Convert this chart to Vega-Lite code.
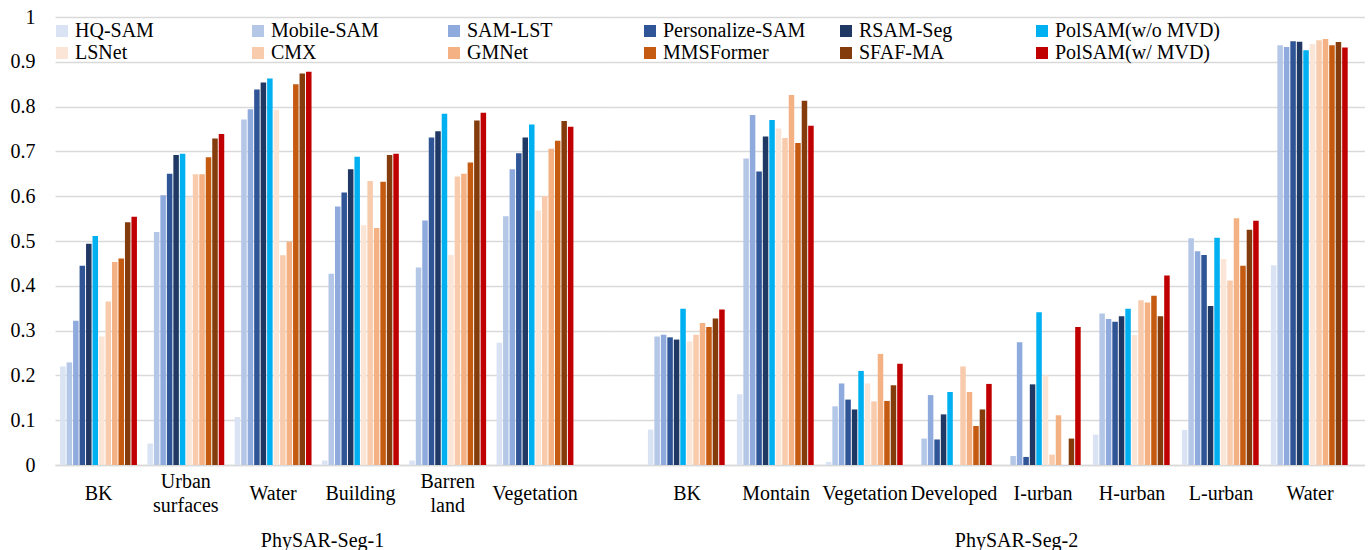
{
  "$schema": "https://vega.github.io/schema/vega-lite/v6.json",
  "background": "white",
  "padding": {"left": 0, "top": 7, "right": 0, "bottom": 0},
  "spacing": 0,
  "config": {
    "font": "Liberation Serif",
    "view": {"stroke": null},
    "axis": {
      "gridColor": "#d9d9d9",
      "gridWidth": 1.5,
      "domainColor": "#d9d9d9",
      "domainWidth": 1.5,
      "ticks": false,
      "tickSize": 0
    }
  },
  "data": {
    "values": [
      {"set": "PhySAR-Seg-1", "category": "BK", "method": "HQ-SAM", "value": 0.220},
      {"set": "PhySAR-Seg-1", "category": "BK", "method": "Mobile-SAM", "value": 0.229},
      {"set": "PhySAR-Seg-1", "category": "BK", "method": "SAM-LST", "value": 0.322},
      {"set": "PhySAR-Seg-1", "category": "BK", "method": "Personalize-SAM", "value": 0.445},
      {"set": "PhySAR-Seg-1", "category": "BK", "method": "RSAM-Seg", "value": 0.494},
      {"set": "PhySAR-Seg-1", "category": "BK", "method": "PolSAM(w/o MVD)", "value": 0.511},
      {"set": "PhySAR-Seg-1", "category": "BK", "method": "LSNet", "value": 0.287},
      {"set": "PhySAR-Seg-1", "category": "BK", "method": "CMX", "value": 0.365},
      {"set": "PhySAR-Seg-1", "category": "BK", "method": "GMNet", "value": 0.453},
      {"set": "PhySAR-Seg-1", "category": "BK", "method": "MMSFormer", "value": 0.461},
      {"set": "PhySAR-Seg-1", "category": "BK", "method": "SFAF-MA", "value": 0.542},
      {"set": "PhySAR-Seg-1", "category": "BK", "method": "PolSAM(w/ MVD)", "value": 0.554},

      {"set": "PhySAR-Seg-1", "category": "Urban surfaces", "method": "HQ-SAM", "value": 0.048},
      {"set": "PhySAR-Seg-1", "category": "Urban surfaces", "method": "Mobile-SAM", "value": 0.520},
      {"set": "PhySAR-Seg-1", "category": "Urban surfaces", "method": "SAM-LST", "value": 0.602},
      {"set": "PhySAR-Seg-1", "category": "Urban surfaces", "method": "Personalize-SAM", "value": 0.650},
      {"set": "PhySAR-Seg-1", "category": "Urban surfaces", "method": "RSAM-Seg", "value": 0.692},
      {"set": "PhySAR-Seg-1", "category": "Urban surfaces", "method": "PolSAM(w/o MVD)", "value": 0.695},
      {"set": "PhySAR-Seg-1", "category": "Urban surfaces", "method": "LSNet", "value": 0.598},
      {"set": "PhySAR-Seg-1", "category": "Urban surfaces", "method": "CMX", "value": 0.649},
      {"set": "PhySAR-Seg-1", "category": "Urban surfaces", "method": "GMNet", "value": 0.649},
      {"set": "PhySAR-Seg-1", "category": "Urban surfaces", "method": "MMSFormer", "value": 0.687},
      {"set": "PhySAR-Seg-1", "category": "Urban surfaces", "method": "SFAF-MA", "value": 0.729},
      {"set": "PhySAR-Seg-1", "category": "Urban surfaces", "method": "PolSAM(w/ MVD)", "value": 0.739},

      {"set": "PhySAR-Seg-1", "category": "Water", "method": "HQ-SAM", "value": 0.107},
      {"set": "PhySAR-Seg-1", "category": "Water", "method": "Mobile-SAM", "value": 0.771},
      {"set": "PhySAR-Seg-1", "category": "Water", "method": "SAM-LST", "value": 0.794},
      {"set": "PhySAR-Seg-1", "category": "Water", "method": "Personalize-SAM", "value": 0.838},
      {"set": "PhySAR-Seg-1", "category": "Water", "method": "RSAM-Seg", "value": 0.854},
      {"set": "PhySAR-Seg-1", "category": "Water", "method": "PolSAM(w/o MVD)", "value": 0.863},
      {"set": "PhySAR-Seg-1", "category": "Water", "method": "LSNet", "value": 0.793},
      {"set": "PhySAR-Seg-1", "category": "Water", "method": "CMX", "value": 0.468},
      {"set": "PhySAR-Seg-1", "category": "Water", "method": "GMNet", "value": 0.499},
      {"set": "PhySAR-Seg-1", "category": "Water", "method": "MMSFormer", "value": 0.850},
      {"set": "PhySAR-Seg-1", "category": "Water", "method": "SFAF-MA", "value": 0.874},
      {"set": "PhySAR-Seg-1", "category": "Water", "method": "PolSAM(w/ MVD)", "value": 0.878},

      {"set": "PhySAR-Seg-1", "category": "Building", "method": "HQ-SAM", "value": 0.010},
      {"set": "PhySAR-Seg-1", "category": "Building", "method": "Mobile-SAM", "value": 0.427},
      {"set": "PhySAR-Seg-1", "category": "Building", "method": "SAM-LST", "value": 0.577},
      {"set": "PhySAR-Seg-1", "category": "Building", "method": "Personalize-SAM", "value": 0.608},
      {"set": "PhySAR-Seg-1", "category": "Building", "method": "RSAM-Seg", "value": 0.660},
      {"set": "PhySAR-Seg-1", "category": "Building", "method": "PolSAM(w/o MVD)", "value": 0.688},
      {"set": "PhySAR-Seg-1", "category": "Building", "method": "LSNet", "value": 0.535},
      {"set": "PhySAR-Seg-1", "category": "Building", "method": "CMX", "value": 0.634},
      {"set": "PhySAR-Seg-1", "category": "Building", "method": "GMNet", "value": 0.529},
      {"set": "PhySAR-Seg-1", "category": "Building", "method": "MMSFormer", "value": 0.632},
      {"set": "PhySAR-Seg-1", "category": "Building", "method": "SFAF-MA", "value": 0.692},
      {"set": "PhySAR-Seg-1", "category": "Building", "method": "PolSAM(w/ MVD)", "value": 0.695},

      {"set": "PhySAR-Seg-1", "category": "Barren land", "method": "HQ-SAM", "value": 0.010},
      {"set": "PhySAR-Seg-1", "category": "Barren land", "method": "Mobile-SAM", "value": 0.441},
      {"set": "PhySAR-Seg-1", "category": "Barren land", "method": "SAM-LST", "value": 0.546},
      {"set": "PhySAR-Seg-1", "category": "Barren land", "method": "Personalize-SAM", "value": 0.731},
      {"set": "PhySAR-Seg-1", "category": "Barren land", "method": "RSAM-Seg", "value": 0.745},
      {"set": "PhySAR-Seg-1", "category": "Barren land", "method": "PolSAM(w/o MVD)", "value": 0.784},
      {"set": "PhySAR-Seg-1", "category": "Barren land", "method": "LSNet", "value": 0.469},
      {"set": "PhySAR-Seg-1", "category": "Barren land", "method": "CMX", "value": 0.644},
      {"set": "PhySAR-Seg-1", "category": "Barren land", "method": "GMNet", "value": 0.650},
      {"set": "PhySAR-Seg-1", "category": "Barren land", "method": "MMSFormer", "value": 0.675},
      {"set": "PhySAR-Seg-1", "category": "Barren land", "method": "SFAF-MA", "value": 0.769},
      {"set": "PhySAR-Seg-1", "category": "Barren land", "method": "PolSAM(w/ MVD)", "value": 0.786},

      {"set": "PhySAR-Seg-1", "category": "Vegetation", "method": "HQ-SAM", "value": 0.273},
      {"set": "PhySAR-Seg-1", "category": "Vegetation", "method": "Mobile-SAM", "value": 0.555},
      {"set": "PhySAR-Seg-1", "category": "Vegetation", "method": "SAM-LST", "value": 0.660},
      {"set": "PhySAR-Seg-1", "category": "Vegetation", "method": "Personalize-SAM", "value": 0.696},
      {"set": "PhySAR-Seg-1", "category": "Vegetation", "method": "RSAM-Seg", "value": 0.731},
      {"set": "PhySAR-Seg-1", "category": "Vegetation", "method": "PolSAM(w/o MVD)", "value": 0.760},
      {"set": "PhySAR-Seg-1", "category": "Vegetation", "method": "LSNet", "value": 0.568},
      {"set": "PhySAR-Seg-1", "category": "Vegetation", "method": "CMX", "value": 0.600},
      {"set": "PhySAR-Seg-1", "category": "Vegetation", "method": "GMNet", "value": 0.706},
      {"set": "PhySAR-Seg-1", "category": "Vegetation", "method": "MMSFormer", "value": 0.724},
      {"set": "PhySAR-Seg-1", "category": "Vegetation", "method": "SFAF-MA", "value": 0.768},
      {"set": "PhySAR-Seg-1", "category": "Vegetation", "method": "PolSAM(w/ MVD)", "value": 0.755},

      {"set": "PhySAR-Seg-2", "category": "BK", "method": "HQ-SAM", "value": 0.079},
      {"set": "PhySAR-Seg-2", "category": "BK", "method": "Mobile-SAM", "value": 0.287},
      {"set": "PhySAR-Seg-2", "category": "BK", "method": "SAM-LST", "value": 0.291},
      {"set": "PhySAR-Seg-2", "category": "BK", "method": "Personalize-SAM", "value": 0.285},
      {"set": "PhySAR-Seg-2", "category": "BK", "method": "RSAM-Seg", "value": 0.280},
      {"set": "PhySAR-Seg-2", "category": "BK", "method": "PolSAM(w/o MVD)", "value": 0.349},
      {"set": "PhySAR-Seg-2", "category": "BK", "method": "LSNet", "value": 0.276},
      {"set": "PhySAR-Seg-2", "category": "BK", "method": "CMX", "value": 0.291},
      {"set": "PhySAR-Seg-2", "category": "BK", "method": "GMNet", "value": 0.317},
      {"set": "PhySAR-Seg-2", "category": "BK", "method": "MMSFormer", "value": 0.308},
      {"set": "PhySAR-Seg-2", "category": "BK", "method": "SFAF-MA", "value": 0.327},
      {"set": "PhySAR-Seg-2", "category": "BK", "method": "PolSAM(w/ MVD)", "value": 0.347},

      {"set": "PhySAR-Seg-2", "category": "Montain", "method": "HQ-SAM", "value": 0.158},
      {"set": "PhySAR-Seg-2", "category": "Montain", "method": "Mobile-SAM", "value": 0.684},
      {"set": "PhySAR-Seg-2", "category": "Montain", "method": "SAM-LST", "value": 0.781},
      {"set": "PhySAR-Seg-2", "category": "Montain", "method": "Personalize-SAM", "value": 0.655},
      {"set": "PhySAR-Seg-2", "category": "Montain", "method": "RSAM-Seg", "value": 0.733},
      {"set": "PhySAR-Seg-2", "category": "Montain", "method": "PolSAM(w/o MVD)", "value": 0.770},
      {"set": "PhySAR-Seg-2", "category": "Montain", "method": "LSNet", "value": 0.751},
      {"set": "PhySAR-Seg-2", "category": "Montain", "method": "CMX", "value": 0.730},
      {"set": "PhySAR-Seg-2", "category": "Montain", "method": "GMNet", "value": 0.826},
      {"set": "PhySAR-Seg-2", "category": "Montain", "method": "MMSFormer", "value": 0.719},
      {"set": "PhySAR-Seg-2", "category": "Montain", "method": "SFAF-MA", "value": 0.813},
      {"set": "PhySAR-Seg-2", "category": "Montain", "method": "PolSAM(w/ MVD)", "value": 0.757},

      {"set": "PhySAR-Seg-2", "category": "Vegetation", "method": "HQ-SAM", "value": 0.007},
      {"set": "PhySAR-Seg-2", "category": "Vegetation", "method": "Mobile-SAM", "value": 0.131},
      {"set": "PhySAR-Seg-2", "category": "Vegetation", "method": "SAM-LST", "value": 0.182},
      {"set": "PhySAR-Seg-2", "category": "Vegetation", "method": "Personalize-SAM", "value": 0.146},
      {"set": "PhySAR-Seg-2", "category": "Vegetation", "method": "RSAM-Seg", "value": 0.124},
      {"set": "PhySAR-Seg-2", "category": "Vegetation", "method": "PolSAM(w/o MVD)", "value": 0.210},
      {"set": "PhySAR-Seg-2", "category": "Vegetation", "method": "LSNet", "value": 0.182},
      {"set": "PhySAR-Seg-2", "category": "Vegetation", "method": "CMX", "value": 0.142},
      {"set": "PhySAR-Seg-2", "category": "Vegetation", "method": "GMNet", "value": 0.248},
      {"set": "PhySAR-Seg-2", "category": "Vegetation", "method": "MMSFormer", "value": 0.143},
      {"set": "PhySAR-Seg-2", "category": "Vegetation", "method": "SFAF-MA", "value": 0.178},
      {"set": "PhySAR-Seg-2", "category": "Vegetation", "method": "PolSAM(w/ MVD)", "value": 0.226},

      {"set": "PhySAR-Seg-2", "category": "Developed", "method": "HQ-SAM", "value": 0},
      {"set": "PhySAR-Seg-2", "category": "Developed", "method": "Mobile-SAM", "value": 0.059},
      {"set": "PhySAR-Seg-2", "category": "Developed", "method": "SAM-LST", "value": 0.156},
      {"set": "PhySAR-Seg-2", "category": "Developed", "method": "Personalize-SAM", "value": 0.057},
      {"set": "PhySAR-Seg-2", "category": "Developed", "method": "RSAM-Seg", "value": 0.113},
      {"set": "PhySAR-Seg-2", "category": "Developed", "method": "PolSAM(w/o MVD)", "value": 0.163},
      {"set": "PhySAR-Seg-2", "category": "Developed", "method": "LSNet", "value": 0},
      {"set": "PhySAR-Seg-2", "category": "Developed", "method": "CMX", "value": 0.220},
      {"set": "PhySAR-Seg-2", "category": "Developed", "method": "GMNet", "value": 0.163},
      {"set": "PhySAR-Seg-2", "category": "Developed", "method": "MMSFormer", "value": 0.087},
      {"set": "PhySAR-Seg-2", "category": "Developed", "method": "SFAF-MA", "value": 0.124},
      {"set": "PhySAR-Seg-2", "category": "Developed", "method": "PolSAM(w/ MVD)", "value": 0.181},

      {"set": "PhySAR-Seg-2", "category": "I-urban", "method": "HQ-SAM", "value": 0},
      {"set": "PhySAR-Seg-2", "category": "I-urban", "method": "Mobile-SAM", "value": 0.020},
      {"set": "PhySAR-Seg-2", "category": "I-urban", "method": "SAM-LST", "value": 0.274},
      {"set": "PhySAR-Seg-2", "category": "I-urban", "method": "Personalize-SAM", "value": 0.018},
      {"set": "PhySAR-Seg-2", "category": "I-urban", "method": "RSAM-Seg", "value": 0.180},
      {"set": "PhySAR-Seg-2", "category": "I-urban", "method": "PolSAM(w/o MVD)", "value": 0.341},
      {"set": "PhySAR-Seg-2", "category": "I-urban", "method": "LSNet", "value": 0.200},
      {"set": "PhySAR-Seg-2", "category": "I-urban", "method": "CMX", "value": 0.023},
      {"set": "PhySAR-Seg-2", "category": "I-urban", "method": "GMNet", "value": 0.111},
      {"set": "PhySAR-Seg-2", "category": "I-urban", "method": "MMSFormer", "value": 0},
      {"set": "PhySAR-Seg-2", "category": "I-urban", "method": "SFAF-MA", "value": 0.059},
      {"set": "PhySAR-Seg-2", "category": "I-urban", "method": "PolSAM(w/ MVD)", "value": 0.308},

      {"set": "PhySAR-Seg-2", "category": "H-urban", "method": "HQ-SAM", "value": 0.068},
      {"set": "PhySAR-Seg-2", "category": "H-urban", "method": "Mobile-SAM", "value": 0.338},
      {"set": "PhySAR-Seg-2", "category": "H-urban", "method": "SAM-LST", "value": 0.326},
      {"set": "PhySAR-Seg-2", "category": "H-urban", "method": "Personalize-SAM", "value": 0.320},
      {"set": "PhySAR-Seg-2", "category": "H-urban", "method": "RSAM-Seg", "value": 0.332},
      {"set": "PhySAR-Seg-2", "category": "H-urban", "method": "PolSAM(w/o MVD)", "value": 0.349},
      {"set": "PhySAR-Seg-2", "category": "H-urban", "method": "LSNet", "value": 0.290},
      {"set": "PhySAR-Seg-2", "category": "H-urban", "method": "CMX", "value": 0.368},
      {"set": "PhySAR-Seg-2", "category": "H-urban", "method": "GMNet", "value": 0.363},
      {"set": "PhySAR-Seg-2", "category": "H-urban", "method": "MMSFormer", "value": 0.378},
      {"set": "PhySAR-Seg-2", "category": "H-urban", "method": "SFAF-MA", "value": 0.332},
      {"set": "PhySAR-Seg-2", "category": "H-urban", "method": "PolSAM(w/ MVD)", "value": 0.423},

      {"set": "PhySAR-Seg-2", "category": "L-urban", "method": "HQ-SAM", "value": 0.078},
      {"set": "PhySAR-Seg-2", "category": "L-urban", "method": "Mobile-SAM", "value": 0.506},
      {"set": "PhySAR-Seg-2", "category": "L-urban", "method": "SAM-LST", "value": 0.477},
      {"set": "PhySAR-Seg-2", "category": "L-urban", "method": "Personalize-SAM", "value": 0.469},
      {"set": "PhySAR-Seg-2", "category": "L-urban", "method": "RSAM-Seg", "value": 0.355},
      {"set": "PhySAR-Seg-2", "category": "L-urban", "method": "PolSAM(w/o MVD)", "value": 0.507},
      {"set": "PhySAR-Seg-2", "category": "L-urban", "method": "LSNet", "value": 0.460},
      {"set": "PhySAR-Seg-2", "category": "L-urban", "method": "CMX", "value": 0.412},
      {"set": "PhySAR-Seg-2", "category": "L-urban", "method": "GMNet", "value": 0.551},
      {"set": "PhySAR-Seg-2", "category": "L-urban", "method": "MMSFormer", "value": 0.445},
      {"set": "PhySAR-Seg-2", "category": "L-urban", "method": "SFAF-MA", "value": 0.525},
      {"set": "PhySAR-Seg-2", "category": "L-urban", "method": "PolSAM(w/ MVD)", "value": 0.545},

      {"set": "PhySAR-Seg-2", "category": "Water", "method": "HQ-SAM", "value": 0.446},
      {"set": "PhySAR-Seg-2", "category": "Water", "method": "Mobile-SAM", "value": 0.937},
      {"set": "PhySAR-Seg-2", "category": "Water", "method": "SAM-LST", "value": 0.933},
      {"set": "PhySAR-Seg-2", "category": "Water", "method": "Personalize-SAM", "value": 0.946},
      {"set": "PhySAR-Seg-2", "category": "Water", "method": "RSAM-Seg", "value": 0.945},
      {"set": "PhySAR-Seg-2", "category": "Water", "method": "PolSAM(w/o MVD)", "value": 0.926},
      {"set": "PhySAR-Seg-2", "category": "Water", "method": "LSNet", "value": 0.940},
      {"set": "PhySAR-Seg-2", "category": "Water", "method": "CMX", "value": 0.948},
      {"set": "PhySAR-Seg-2", "category": "Water", "method": "GMNet", "value": 0.951},
      {"set": "PhySAR-Seg-2", "category": "Water", "method": "MMSFormer", "value": 0.937},
      {"set": "PhySAR-Seg-2", "category": "Water", "method": "SFAF-MA", "value": 0.944},
      {"set": "PhySAR-Seg-2", "category": "Water", "method": "PolSAM(w/ MVD)", "value": 0.932}
    ]
  },
  "hconcat": [
    {
      "width": 556,
      "height": 448,
      "transform": [{"filter": "datum.set === 'PhySAR-Seg-1'"}],
      "mark": {"type": "bar"},
      "encoding": {
        "x": {
          "field": "category",
          "type": "nominal",
          "scale": {
            "domain": ["BK", "Urban surfaces", "Water", "Building", "Barren land", "Vegetation"],
            "paddingInner": 0.12,
            "paddingOuter": 0.2446,
            "align": 0.12
          },
          "axis": {
            "title": "PhySAR-Seg-1",
            "titleFont": "Liberation Serif",
            "titleFontSize": 20,
            "titleFontWeight": "normal",
            "titleColor": "#000000",
            "titleX": 267,
            "titleY": 75,
            "titleBaseline": "middle",
            "labelFont": "Liberation Serif",
            "labelFontSize": 20,
            "labelColor": "#000000",
            "labelAngle": 0,
            "labelPadding": {
              "condition": {"test": "datum.value === 'Urban surfaces' || datum.value === 'Barren land'", "value": 16},
              "value": 28
            },
            "labelBaseline": "middle",
            "labelLineHeight": 24,
            "labelExpr": "datum.label === 'Urban surfaces' ? ['Urban', 'surfaces'] : datum.label === 'Barren land' ? ['Barren', 'land'] : datum.label"
          }
        },
        "xOffset": {
          "field": "method",
          "type": "nominal",
          "scale": {
            "domain": ["HQ-SAM", "Mobile-SAM", "SAM-LST", "Personalize-SAM", "RSAM-Seg", "PolSAM(w/o MVD)", "LSNet", "CMX", "GMNet", "MMSFormer", "SFAF-MA", "PolSAM(w/ MVD)"],
            "paddingInner": 0.15
          }
        },
        "y": {
          "field": "value",
          "type": "quantitative",
          "scale": {"domain": [0, 1], "nice": false},
          "axis": {
            "title": null,
            "values": [0, 0.1, 0.2, 0.3, 0.4, 0.5, 0.6, 0.7, 0.8, 0.9, 1],
            "format": "~g",
            "labelFont": "Liberation Serif",
            "labelFontSize": 20,
            "labelColor": "#000000",
            "labelPadding": 20,
            "labelFlush": false,
            "minExtent": 55,
            "maxExtent": 55,
            "domain": false,
            "grid": true
          }
        },
        "color": {
          "field": "method",
          "type": "nominal",
          "scale": {
            "domain": ["HQ-SAM", "Mobile-SAM", "SAM-LST", "Personalize-SAM", "RSAM-Seg", "PolSAM(w/o MVD)", "LSNet", "CMX", "GMNet", "MMSFormer", "SFAF-MA", "PolSAM(w/ MVD)"],
            "range": ["#dae3f3", "#b4c7e7", "#8faadc", "#2f5597", "#203864", "#00b0f0", "#fbe5d6", "#f8cbad", "#f4b183", "#c55a11", "#843c0c", "#c00000"]
          },
          "legend": {
            "title": null,
            "orient": "none",
            "legendX": -3,
            "legendY": 4,
            "direction": "horizontal",
            "columns": 6,
            "gridAlign": "all",
            "columnPadding": 7,
            "rowPadding": 2,
            "symbolType": "square",
            "symbolSize": 144,
            "symbolStrokeWidth": 0,
            "labelFont": "Liberation Serif",
            "labelFontSize": 20,
            "labelColor": "#000000",
            "labelOffset": 3,
            "labelLimit": 300
          }
        }
      }
    },
    {
      "width": 754,
      "height": 448,
      "transform": [{"filter": "datum.set === 'PhySAR-Seg-2'"}],
      "mark": {"type": "bar"},
      "encoding": {
        "x": {
          "field": "category",
          "type": "nominal",
          "scale": {
            "domain": ["BK", "Montain", "Vegetation", "Developed", "I-urban", "H-urban", "L-urban", "Water"],
            "paddingInner": 0.12,
            "paddingOuter": 0.296,
            "align": 0.7
          },
          "axis": {
            "title": "PhySAR-Seg-2",
            "titleFont": "Liberation Serif",
            "titleFontSize": 20,
            "titleFontWeight": "normal",
            "titleColor": "#000000",
            "titleX": 405,
            "titleY": 75,
            "titleBaseline": "middle",
            "labelFont": "Liberation Serif",
            "labelFontSize": 20,
            "labelColor": "#000000",
            "labelAngle": 0,
            "labelPadding": 28,
            "labelBaseline": "middle",
            "labelLineHeight": 24
          }
        },
        "xOffset": {
          "field": "method",
          "type": "nominal",
          "scale": {
            "domain": ["HQ-SAM", "Mobile-SAM", "SAM-LST", "Personalize-SAM", "RSAM-Seg", "PolSAM(w/o MVD)", "LSNet", "CMX", "GMNet", "MMSFormer", "SFAF-MA", "PolSAM(w/ MVD)"],
            "paddingInner": 0.15
          }
        },
        "y": {
          "field": "value",
          "type": "quantitative",
          "scale": {"domain": [0, 1], "nice": false},
          "axis": {
            "title": null,
            "values": [0, 0.1, 0.2, 0.3, 0.4, 0.5, 0.6, 0.7, 0.8, 0.9, 1],
            "labels": false,
            "domain": false,
            "grid": true,
            "minExtent": 0,
            "maxExtent": 0
          }
        },
        "color": {
          "field": "method",
          "type": "nominal",
          "scale": {
            "domain": ["HQ-SAM", "Mobile-SAM", "SAM-LST", "Personalize-SAM", "RSAM-Seg", "PolSAM(w/o MVD)", "LSNet", "CMX", "GMNet", "MMSFormer", "SFAF-MA", "PolSAM(w/ MVD)"],
            "range": ["#dae3f3", "#b4c7e7", "#8faadc", "#2f5597", "#203864", "#00b0f0", "#fbe5d6", "#f8cbad", "#f4b183", "#c55a11", "#843c0c", "#c00000"]
          }
        }
      }
    }
  ],
  "resolve": {"scale": {"color": "shared"}, "legend": {"color": "shared"}}
}
